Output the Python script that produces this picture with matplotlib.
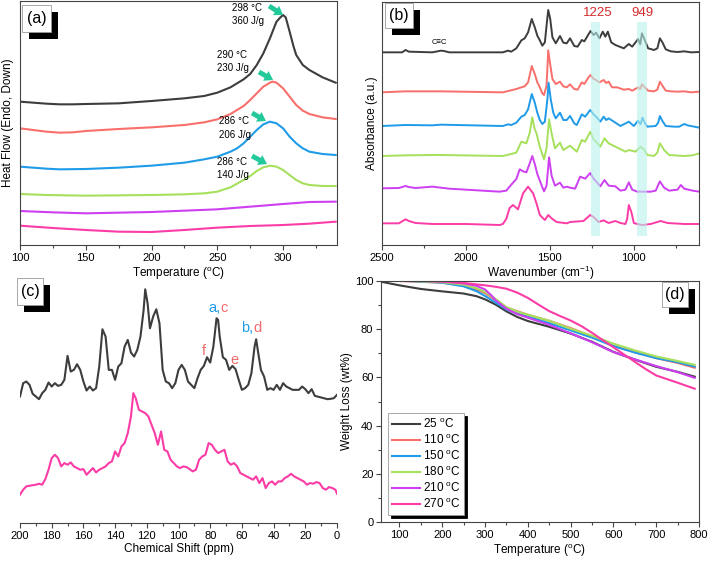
import matplotlib
matplotlib.use("Agg")
import matplotlib.pyplot as plt
from matplotlib.patches import Rectangle
from matplotlib.ticker import MultipleLocator

plt.rcParams['font.family'] = ['Liberation Sans', 'DejaVu Sans']
plt.rcParams['mathtext.fontset'] = 'custom'
plt.rcParams['mathtext.rm'] = 'Liberation Sans'
plt.rcParams['mathtext.it'] = 'Liberation Sans:italic'

COLORS = ['#3d3d3d', '#f86f6b', '#1f9be8', '#a6e05c', '#cd3ff0', '#fb3ca6']
CURE_T = ['25', '110', '150', '180', '210', '270']
SPINE = '#444444'

# ---- (a) DSC, heat flow in a.u. ----
dsc_T_25 = [100, 110, 120, 130, 140, 150, 175, 200, 225, 240, 250, 260, 270, 275,
            280, 285, 290, 295, 298, 300, 302, 305, 308, 310, 315, 320, 330, 340]
dsc_25 = [430, 427, 424, 422, 422, 423, 425, 432, 440, 447, 457, 473, 497, 513,
          540, 575, 620, 670, 683, 690, 683, 640, 595, 570, 540, 525, 503, 487]
dsc_T_110 = [100, 110, 120, 130, 140, 150, 175, 200, 225, 240, 250, 260, 270, 275,
             280, 285, 290, 292, 295, 300, 305, 310, 315, 320, 330, 340]
dsc_110 = [350, 345, 340, 337, 338, 342, 348, 353, 360, 368, 377, 393, 417, 435,
           455, 475, 487, 490, 487, 470, 445, 420, 403, 393, 383, 378]
dsc_T_150 = [100, 110, 120, 130, 150, 175, 200, 225, 240, 250, 260, 265, 270, 275,
             280, 285, 290, 295, 300, 305, 310, 315, 320, 330, 340]
dsc_150 = [235, 232, 229, 227, 228, 232, 238, 247, 257, 265, 280, 290, 305, 325,
           345, 362, 370, 365, 350, 325, 305, 290, 280, 273, 270]
dsc_T_180 = [100, 120, 150, 175, 200, 225, 240, 250, 260, 270, 275, 280, 285, 290,
             295, 300, 305, 310, 315, 320, 330, 340]
dsc_180 = [153, 150, 148, 149, 150, 152, 155, 160, 173, 195, 207, 222, 233, 238,
           235, 225, 210, 195, 185, 180, 177, 177]
dsc_T_flat = [100, 125, 150, 175, 200, 225, 250, 275, 300, 320, 340]
dsc_210 = [102, 98, 95, 97, 99, 103, 107, 115, 123, 129, 130]
dsc_270 = [58, 51, 45, 40, 39, 45, 52, 57, 60, 64, 70]

dsc_notes = ["298 °C\n360 J/g", "290 °C\n230 J/g", "286 °C\n206 J/g", "286 °C\n140 J/g"]
dsc_note_xy = [(261, 692), (250, 551), (251, 351), (250, 230)]
dsc_arrow_tail = [(289.4, 717), (281.7, 519), (276.4, 396), (276.4, 267)]
dsc_arrow_head = [(300, 690), (292.4, 495), (287, 372), (287.8, 243)]

# ---- (b) FTIR, (wavenumber, absorbance above own baseline) ----
ftir_offsets = [578, 458, 357, 267, 163, 63]
ftir_25 = [(2500, 0), (2380, 0), (2360, 7), (2340, 2), (2200, 0), (2150, 5), (2130, 4),
           (2100, 0), (1780, 0), (1750, 5), (1730, 2), (1700, 12), (1670, 36), (1650, 42),
           (1630, 60), (1608, 100), (1590, 75), (1575, 50), (1560, 36), (1545, 20),
           (1530, 30), (1518, 90), (1510, 127), (1498, 100), (1485, 45), (1465, 27),
           (1440, 49), (1420, 29), (1400, 27), (1380, 42), (1355, 19), (1335, 17),
           (1310, 37), (1295, 33), (1270, 54), (1258, 64), (1240, 52), (1225, 59),
           (1205, 42), (1185, 62), (1170, 47), (1155, 62), (1135, 30), (1110, 22),
           (1060, 12), (1030, 25), (1010, 17), (985, 33), (975, 40), (962, 24),
           (952, 57), (935, 37), (915, 12), (880, 7), (860, 12), (845, 42), (830, 30),
           (810, 9), (780, 3), (740, 1), (700, 3), (660, 0), (610, 1)]
ftir_110 = [(2500, 0), (2360, 3), (2150, 3), (1780, 0), (1740, 5), (1700, 10), (1670, 15),
            (1650, 18), (1630, 30), (1608, 79), (1590, 55), (1575, 30), (1560, 15),
            (1545, -3), (1535, -8), (1520, 20), (1510, 126), (1500, 90), (1485, 40),
            (1465, 25), (1440, 32), (1420, 18), (1400, 15), (1380, 24), (1355, 10),
            (1335, 8), (1310, 30), (1295, 25), (1270, 45), (1258, 52), (1240, 40),
            (1225, 37), (1205, 30), (1180, 37), (1165, 28), (1150, 32), (1130, 15),
            (1100, 15), (1060, 8), (1030, 10), (1010, 5), (985, 12), (975, 15),
            (962, 10), (952, 24), (935, 15), (915, 5), (880, 3), (860, 8), (845, 32),
            (830, 20), (810, 5), (780, 3), (740, 2), (700, 3), (660, 0), (610, 2)]
ftir_150 = [(2500, 0), (2360, 3), (2200, 2), (2150, 4), (1780, 0), (1750, 5), (1730, 3),
            (1700, 10), (1670, 28), (1650, 33), (1630, 50), (1608, 96), (1590, 70),
            (1575, 40), (1560, 18), (1545, 6), (1530, 13), (1515, 80), (1508, 130),
            (1495, 80), (1480, 40), (1465, 23), (1440, 40), (1420, 18), (1400, 18),
            (1380, 30), (1355, 8), (1340, 3), (1310, 35), (1290, 28), (1260, 48),
            (1240, 35), (1225, 28), (1200, 13), (1180, 28), (1165, 18), (1150, 23),
            (1110, 10), (1080, 0), (1030, 13), (1000, 0), (975, 16), (960, 5), (949, 25),
            (930, 5), (920, -2), (870, 0), (855, 10), (845, 30), (830, 15), (810, 0),
            (760, -2), (730, -2), (700, 6), (680, 2), (610, -5)]
ftir_180 = [(2500, 0), (2360, 2), (2200, 3), (2150, 3), (1780, 0), (1740, 5), (1700, 10),
            (1670, 43), (1640, 38), (1620, 70), (1605, 116), (1590, 80), (1580, 68),
            (1560, 28), (1545, 5), (1535, -10), (1520, 23), (1505, 110), (1490, 68),
            (1470, 23), (1440, 40), (1420, 18), (1380, 31), (1340, 13), (1310, 48),
            (1290, 43), (1260, 73), (1240, 50), (1225, 43), (1200, 28), (1175, 53),
            (1150, 38), (1110, 28), (1050, 13), (1030, 18), (990, 13), (960, 28),
            (940, 20), (920, 3), (880, 0), (860, 10), (845, 38), (820, 18), (790, 3),
            (700, 0), (650, 2), (610, 8)]
ftir_210 = [(2500, 7), (2400, 8), (2360, 14), (2340, 11), (2300, 8), (2200, 12), (2100, 6),
            (2000, 3), (1800, -3), (1760, 0), (1730, 18), (1700, 35), (1680, 64),
            (1660, 58), (1640, 55), (1625, 75), (1605, 104), (1590, 80), (1575, 50),
            (1560, 30), (1545, 10), (1535, -2), (1520, 15), (1505, 100), (1490, 45),
            (1470, 15), (1440, 24), (1420, 9), (1400, 12), (1380, 9), (1350, 6),
            (1320, 42), (1290, 36), (1260, 53), (1240, 36), (1225, 28), (1200, 13),
            (1175, 32), (1150, 15), (1110, 13), (1080, 0), (1050, 3), (1030, 25),
            (1010, 3), (980, -3), (949, -3), (900, -3), (870, 0), (845, 28), (820, 9),
            (790, 0), (740, 3), (720, 17), (700, 6), (650, 0), (610, -3)]
ftir_270 = [(2500, 2), (2400, 2), (2360, 14), (2340, 9), (2300, 3), (2200, 0), (2000, 0),
            (1800, -3), (1780, 0), (1760, 15), (1740, 48), (1720, 57), (1690, 44),
            (1660, 92), (1630, 112), (1600, 92), (1580, 62), (1560, 27), (1530, 12),
            (1510, 27), (1490, 17), (1460, 6), (1400, 2), (1380, 6), (1300, 9),
            (1260, 27), (1240, 21), (1210, 6), (1180, 11), (1150, 3), (1110, 9),
            (1080, 3), (1050, 0), (1040, 15), (1030, 57), (1015, 36), (1000, 3),
            (980, 0), (950, -3), (900, 0), (840, 9), (800, 3), (700, 0), (610, 0)]
ftir_bands = [(1202, 1256), (919, 984)]
ftir_band_names = ['1225', '949']
ftir_band_label_x = [1214, 950]

# ---- (c) 13C NMR ----
nmr_ppm_top = [200, 198, 196, 194, 192, 190, 188, 186, 184, 182, 180, 178, 176, 174,
               172, 170, 168, 166, 164, 162, 160, 158, 156, 154, 152, 150, 148, 146,
               144, 142, 140, 138, 136, 134, 132, 130, 128, 126, 124, 122, 121, 119.5,
               118, 116, 114, 112, 110, 108, 106, 104, 102, 100, 98, 96, 94, 92, 90,
               88, 86, 84, 82, 80, 78, 76, 75, 74, 72, 70, 68, 66, 64, 62, 60, 58, 56,
               54, 52, 51, 50, 48, 46, 44, 42, 40, 38, 36, 34, 32, 30, 28, 24, 22, 20,
               18, 16, 14, 10, 6, 4, 2, 0]
nmr_top = [380, 420, 425, 415, 388, 380, 372, 390, 400, 422, 410, 420, 412, 415,
           430, 502, 455, 460, 477, 460, 425, 398, 410, 398, 405, 470, 582, 560,
           460, 460, 430, 470, 480, 530, 550, 512, 500, 520, 560, 640, 702, 660,
           585, 620, 642, 600, 460, 425, 420, 405, 420, 460, 475, 460, 425, 415, 405,
           435, 460, 472, 498, 482, 530, 615, 610, 560, 498, 490, 460, 472, 462, 430,
           400, 405, 415, 450, 530, 552, 520, 460, 440, 400, 405, 400, 415, 400, 420,
           410, 405, 400, 400, 410, 402, 390, 402, 382, 377, 372, 373, 375, 385]
nmr_ppm_bot = [200, 198, 196, 194, 190, 188, 186, 184, 182, 180, 178, 176, 174, 172,
               170, 168, 166, 164, 162, 160, 158, 156, 154, 152, 150, 148, 146, 144,
               142, 140, 138, 136, 134, 132, 130, 128.5, 127, 125, 123, 121, 119, 117,
               115, 113, 111, 109, 107, 105, 103, 101, 99, 97, 95, 93, 91, 89, 87, 85,
               83, 81, 79, 77, 75, 73, 71, 69, 67, 65, 63, 61, 59, 57, 55, 53, 51, 49,
               47, 45, 43, 41, 39, 37, 35, 33, 31, 29, 27, 25, 23, 21, 19, 17, 15, 13,
               11, 9, 7, 5, 3, 1, 0]
nmr_bot = [85, 100, 110, 112, 115, 118, 115, 132, 160, 195, 205, 195, 170, 180,
           175, 182, 170, 165, 160, 162, 145, 155, 165, 152, 160, 165, 170, 180,
           185, 215, 200, 230, 240, 270, 320, 390, 375, 340, 335, 330, 320, 295,
           270, 235, 275, 220, 215, 190, 180, 170, 165, 170, 168, 162, 155, 160, 190,
           200, 205, 240, 235, 220, 210, 215, 220, 185, 175, 180, 170, 150, 145, 140,
           135, 130, 140, 120, 135, 105, 120, 125, 115, 125, 125, 135, 140, 148, 140,
           135, 130, 125, 115, 120, 118, 123, 120, 105, 100, 108, 105, 100, 88]
nmr_tags = [("f", 83.9, 517), ("e", 64.4, 490)]

# ---- (d) TGA, weight (%) ----
tga_T_25 = [60, 100, 150, 200, 250, 280, 300, 325, 350, 375, 400, 450, 500, 550,
            600, 650, 700, 750, 790]
tga_25 = [99.6, 98.2, 96.7, 95.7, 94.8, 93.7, 92.4, 90.2, 87.4, 85.1, 83.4, 81.0,
          78.2, 74.8, 70.6, 67.4, 64.4, 62.3, 60.3]
tga_T_mid = [60, 100, 200, 250, 280, 300, 325, 350, 375, 400, 450, 500, 550, 600,
             650, 700, 750, 790]
tga_110 = [100.3, 100, 99.3, 98, 96.5, 95, 92, 89, 87.5, 86, 83.5, 80.5, 77, 73,
           70.5, 68, 66, 64]
tga_150 = [100.5, 100.2, 99.3, 97.8, 95.8, 93.8, 91, 88.2, 86.5, 85.2, 82.5, 79.5,
           76.5, 73, 70.3, 68, 66.3, 64.5]
tga_180 = [100.5, 100.2, 99.5, 98.5, 97, 95.5, 92.5, 89.2, 87.3, 86, 83.5, 80.2,
           77.3, 74, 71.2, 68.7, 66.8, 65.2]
tga_T_210 = [60, 100, 200, 250, 280, 300, 315, 325, 350, 375, 400, 450, 500, 550,
             600, 650, 700, 750, 790]
tga_210 = [100.5, 100.3, 99.8, 99, 98, 96.5, 94, 92, 88.5, 86.3, 84.8, 81.8, 78.3,
           74.6, 70.5, 67.5, 64.7, 62.2, 59.8]
tga_T_270 = [60, 100, 200, 250, 300, 325, 350, 375, 400, 425, 450, 475, 500, 525,
             550, 575, 600, 625, 650, 675, 700, 725, 750, 790]
tga_270 = [100.5, 100.3, 99.8, 99.2, 98.2, 97.6, 96.8, 95.2, 93, 90.2, 87.5, 85.5,
           83.6, 81.3, 78.5, 75.5, 72.5, 69.5, 66.5, 63.5, 60.8, 59.3, 57.8, 55.3]

W, H = 710, 563
fig = plt.figure(figsize=(W / 100, H / 100), dpi=100)


def px_axes(l, t, r, b):
    ax = fig.add_axes([l / W, 1 - b / H, (r - l) / W, (b - t) / H])
    ax.patch.set_alpha(0)
    return ax


def style(ax, left=False):
    for s in ax.spines.values():
        s.set_color(SPINE)
        s.set_linewidth(0.8)
    ax.tick_params(which='both', direction='out', color=SPINE, width=0.8,
                   labelsize=8, pad=2, top=False, right=False, left=left,
                   labelleft=left)
    ax.tick_params(which='major', length=3.5)
    ax.tick_params(which='minor', length=2)


def panel_tag(text, x0, y0, x1, y1, d=7):
    fig.patches.append(Rectangle(((x0 + d) / W, 1 - (y1 + d) / H), (x1 - x0) / W,
                                 (y1 - y0) / H, transform=fig.transFigure,
                                 facecolor='black', edgecolor='none', zorder=5))
    fig.patches.append(Rectangle((x0 / W, 1 - y1 / H), (x1 - x0) / W, (y1 - y0) / H,
                                 transform=fig.transFigure, facecolor='white',
                                 edgecolor='#999999', linewidth=0.6, zorder=6))
    fig.text((x0 + x1) / 2 / W, 1 - (y0 + y1) / 2 / H, text, ha='center',
             va='center', fontsize=11.5, zorder=7)


# (a)
ax = px_axes(20, 1, 337, 245)
style(ax)
for T, v, c in zip([dsc_T_25, dsc_T_110, dsc_T_150, dsc_T_180, dsc_T_flat, dsc_T_flat],
                   [dsc_25, dsc_110, dsc_150, dsc_180, dsc_210, dsc_270], COLORS):
    ax.plot(T, v, color=c, lw=1.5)
for txt, xy in zip(dsc_notes, dsc_note_xy):
    ax.text(xy[0], xy[1], txt, fontsize=7, ha='left', va='center', linespacing=1.45)
for tail, head in zip(dsc_arrow_tail, dsc_arrow_head):
    ax.annotate('', xy=head, xytext=tail,
                arrowprops=dict(arrowstyle='simple,head_width=0.8,head_length=0.6,tail_width=0.35',
                                color='#22c99a', lw=0, shrinkA=0, shrinkB=0))
ax.set_xlim(100, 341)
ax.set_ylim(0, 732)
ax.xaxis.set_major_locator(MultipleLocator(50))
ax.xaxis.set_minor_locator(MultipleLocator(25))
ax.set_yticks([])
ax.set_xlabel('Temperature ($^{\\mathrm{o}}$C)', fontsize=8.5, labelpad=1.5)
ax.set_ylabel('Heat Flow (Endo, Down)', fontsize=8.5, labelpad=4)

# (b)
ax = px_axes(382, 2, 699, 245)
style(ax)
for spec, off, c in zip([ftir_25, ftir_110, ftir_150, ftir_180, ftir_210, ftir_270],
                        ftir_offsets, COLORS):
    ax.plot([p[0] for p in spec], [p[1] + off for p in spec], color=c, lw=1.4)
for (lo, hi), name, lx in zip(ftir_bands, ftir_band_names, ftir_band_label_x):
    ax.fill_betweenx([27, 670], lo, hi, color='#b9f3ee', alpha=0.6, lw=0, zorder=3)
    ax.text(lx, 697, name, color='#d42a2a', fontsize=9.5, ha='center', va='center')
ax.text(2161, 607, 'C≡C', fontsize=5.5, ha='center', va='center',
        family=['Liberation Sans', 'DejaVu Sans'])
ax.set_xlim(2500, 612)
ax.set_ylim(0, 729)
ax.xaxis.set_major_locator(MultipleLocator(500))
ax.xaxis.set_minor_locator(MultipleLocator(250))
ax.set_yticks([])
ax.set_xlabel('Wavenumber (cm$^{-1}$)', fontsize=8.5, labelpad=1)
ax.set_ylabel('Absorbance (a.u.)', fontsize=8.5, labelpad=3)

# (c)
ax = px_axes(20, 275, 337, 523)
style(ax)
for s in ('top', 'left', 'right'):
    ax.spines[s].set_visible(False)
ax.plot(nmr_ppm_top, nmr_top, color=COLORS[0], lw=1.5)
ax.plot(nmr_ppm_bot, nmr_bot, color=COLORS[5], lw=1.5)
ax.text(73.8, 645, 'a,', color='#1f9be8', fontsize=10.5, ha='right', va='center')
ax.text(73.8, 645, 'c', color='#f26b6b', fontsize=10.5, ha='left', va='center')
ax.text(52.7, 585, 'b,', color='#1f9be8', fontsize=10.5, ha='right', va='center')
ax.text(52.7, 585, 'd', color='#f26b6b', fontsize=10.5, ha='left', va='center')
for t, x, y in nmr_tags:
    ax.text(x, y, t, color='#f26b6b', fontsize=10.5, ha='center', va='center')
ax.set_xlim(200, 0)
ax.set_ylim(0, 745)
ax.xaxis.set_major_locator(MultipleLocator(20))
ax.xaxis.set_minor_locator(MultipleLocator(10))
ax.set_yticks([])
ax.set_xlabel('Chemical Shift (ppm)', fontsize=8.5, labelpad=2)

# (d)
ax = px_axes(381, 281, 699, 522)
style(ax, left=True)
for T, v, c, lab in zip([tga_T_25, tga_T_mid, tga_T_mid, tga_T_mid, tga_T_210, tga_T_270],
                        [tga_25, tga_110, tga_150, tga_180, tga_210, tga_270],
                        COLORS, CURE_T):
    ax.plot(T, v, color=c, lw=1.5, label=lab + ' $^{\\mathrm{o}}$C')
ax.set_xlim(57, 800)
ax.set_ylim(0, 100)
ax.xaxis.set_major_locator(MultipleLocator(100))
ax.xaxis.set_minor_locator(MultipleLocator(50))
ax.yaxis.set_major_locator(MultipleLocator(20))
ax.yaxis.set_minor_locator(MultipleLocator(10))
ax.set_xlabel('Temperature ($^{\\mathrm{o}}$C)', fontsize=8.5, labelpad=2)
ax.set_ylabel('Weight Loss (wt%)', fontsize=8.5, labelpad=1)
leg = ax.legend(loc='lower left', bbox_to_anchor=(0.022, 0.029), borderaxespad=0,
                fontsize=8.5, frameon=True, fancybox=False, handlelength=2.4,
                handletextpad=0.25, labelspacing=0.2, borderpad=0.3,
                shadow={'color': 'black', 'alpha': 1})
leg.get_frame().set_edgecolor('#999999')
leg.get_frame().set_linewidth(0.6)

panel_tag('(a)', 22, 5, 51, 32)
panel_tag('(b)', 385, 3, 413, 28)
panel_tag('(c)', 17, 278, 43, 305)
panel_tag('(d)', 662, 282, 688, 307)

fig.savefig('out.png', dpi=100)
